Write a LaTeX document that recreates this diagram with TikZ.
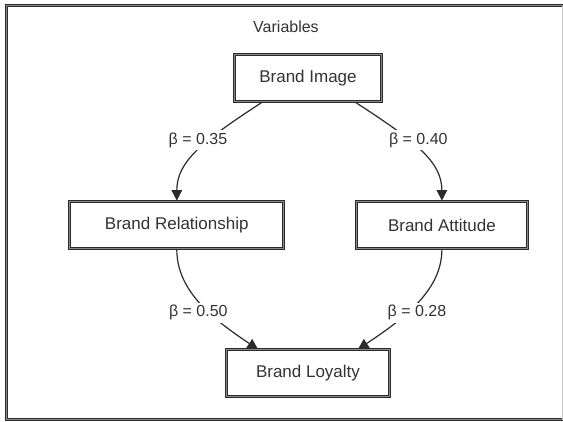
\documentclass[tikz,border=0pt]{standalone}
\usepackage{fontspec}
\setmainfont{Liberation Sans}
\usetikzlibrary{arrows.meta}
\definecolor{ink}{HTML}{333333}
\definecolor{edge}{HTML}{2B2B2B}
\definecolor{seam}{HTML}{8A8A8A}
\begin{document}
\begin{tikzpicture}[x=1pt,y=-1pt,
  var/.style={draw=edge,line width=1.2pt,double=seam,double distance=0.7pt,
    fill=white,inner sep=0pt,minimum height=47.5pt,text=ink,
    font=\fontsize{17}{20}\selectfont},
  coef/.style={fill=white,inner sep=2.5pt,text=ink,font=\fontsize{16}{19}\selectfont},
  path/.style={draw=edge,line width=1.2pt,-{Triangle[length=10.5pt,width=10.5pt]}}]
  \useasboundingbox (0,0) rectangle (563,421);
  % outer frame
  \draw[edge,line width=1.2pt,double=seam,double distance=0.7pt]
    (562.5,5.8) -- (6.5,5.8) -- (6.5,419.4) -- (562.5,419.4);
  \draw[gray!40,line width=0.8pt] (562.6,5.8) -- (562.6,419.6);
  \node[text=ink,font=\fontsize{16}{19}\selectfont] (title) at (286,26.7) {Variables};

  % constructs
  \node[var,minimum width=147.5pt] (img) at (308,78) {Brand Image};
  \node[var,minimum width=214pt] (rel) at (176.8,225) {Brand Relationship};
  \node[var,minimum width=171pt] (att) at (441.9,225) {Brand Attitude};
  \node[var,minimum width=163pt,minimum height=47pt] (loy) at (308,373.3) {Brand Loyalty};

  % paths
  \draw[path] ([xshift=-46pt]img.south) .. controls +(-60,39) and +(0,-39) .. (rel.north);
  \draw[path] ([xshift=47.5pt]img.south) .. controls +(60,39) and +(0,-39) .. (att.north);
  \draw[path] (rel.south) .. controls +(0,39) and +(-50,-33) .. ([xshift=-50pt]loy.north);
  \draw[path] (att.south) .. controls +(0,39) and +(50,-33) .. ([xshift=50pt]loy.north);

  % coefficients
  \node[coef] (c1) at (198,140) {β = 0.35};
  \node[coef] (c2) at (418.3,140) {β = 0.40};
  \node[coef] (c3) at (198.3,312.7) {β = 0.50};
  \node[coef] (c4) at (417,312.7) {β = 0.28};
\end{tikzpicture}
\end{document}
